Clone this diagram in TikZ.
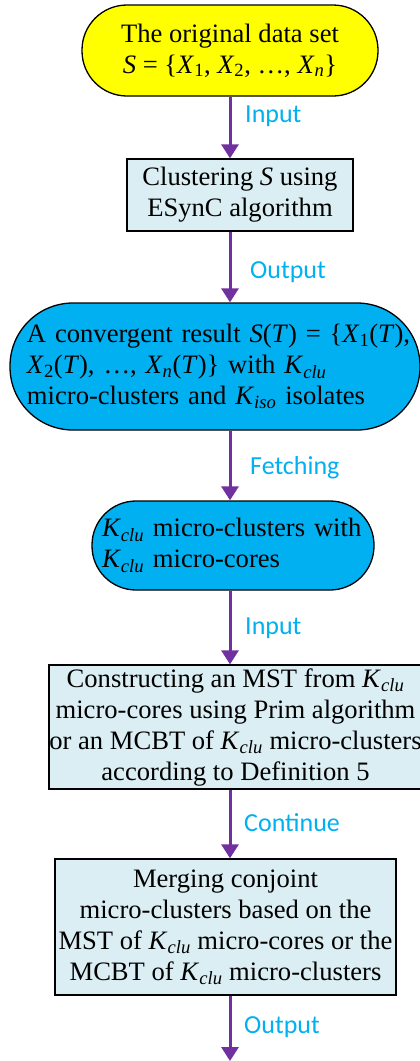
\documentclass[tikz,border=0pt]{standalone}
\usepackage{fontspec}
\setmainfont{Liberation Serif}
\newfontfamily\labfont{Carlito}
\usetikzlibrary{arrows.meta}
\definecolor{arrowpurple}{HTML}{7030A0}
\definecolor{labblue}{HTML}{00B0F0}
\definecolor{boxfill}{HTML}{DAEEF3}
\definecolor{ovalblue}{HTML}{00B0F0}
\definecolor{ovalyellow}{HTML}{FFFF00}
\newcommand\Kclu{\textit{K}\textsubscript{\textit{clu}}}
\newcommand\Kiso{\textit{K}\textsubscript{\textit{iso}}}
\newcommand\Xs[1]{\textit{X}\textsubscript{#1}}
\begin{document}
\begin{tikzpicture}[x=1pt,y=-1pt,
  base/.style={draw=black,line width=1.3pt,inner sep=0pt,
    font=\fontsize{26.6}{31}\selectfont,align=center},
  procbox/.style={base,fill=boxfill,rectangle},
  stadium/.style={base,rectangle,rounded corners=#1},
  flow/.style={draw=arrowpurple,line width=3pt,-{Triangle[width=17pt,length=14pt]}},
  flowlabel/.style={anchor=west,text=labblue,inner sep=0pt,
    font=\labfont\fontsize{26}{30}\selectfont}]
\useasboundingbox (0,0) rectangle (420,1061);
\clip (0,0) rectangle (420,1061);

\node[stadium=45, fill=ovalyellow, minimum width=296pt, minimum height=91pt] (n1) at (230,50.5)
  {The original data set\\\textit{S} = \{\Xs{1}, \Xs{2}, …, \Xs{\textit{n}}\}};
\node[procbox, minimum width=226pt, minimum height=72pt] (n2) at (240,195)
  {Clustering \textit{S} using\\ESynC algorithm};
\node[stadium=63, fill=ovalblue, minimum width=410pt, minimum height=127pt,
  text width=376pt, align=left] (n3) at (215,366.5)
  {\makebox[\linewidth][s]{A convergent result \textit{S}(\textit{T}) = \{\Xs{1}(\textit{T}),}\\
   \makebox[\linewidth][s]{\Xs{2}(\textit{T}), …, \Xs{\textit{n}}(\textit{T})\} with \Kclu}\\
   micro-clusters and \Kiso\ isolates};
\node[stadium=44, fill=ovalblue, minimum width=282pt, minimum height=89pt,
  text width=262pt, align=left] (n4) at (233,545.5)
  {\Kclu\ micro-clusters with\\\Kclu\ micro-cores};
\node[procbox, minimum width=373pt, minimum height=124pt] (n5) at (235.5,727)
  {Constructing an MST from \Kclu\\micro-cores using Prim algorithm\\or an MCBT of \Kclu\ micro-clusters\\according to Definition 5};
\node[procbox, minimum width=341pt, minimum height=136pt] (n6) at (225.5,927)
  {Merging conjoint\\micro-clusters based on the\\MST of \Kclu\ micro-cores or the\\MCBT of \Kclu\ micro-clusters};
\coordinate (end) at (230,1061);

\draw[flow] (n1.south) -- (n2.north -| n1.south);
\draw[flow] (n2.south -| n1.south) -- (n3.north -| n1.south);
\draw[flow] (n3.south -| n1.south) -- (n4.north -| n1.south);
\draw[flow] (n4.south -| n1.south) -- (n5.north -| n1.south);
\draw[flow] (n5.south -| n1.south) -- (n6.north -| n1.south);
\draw[flow] (n6.south -| end) -- (end);

\node[flowlabel] (l1) at (245,116) {Input};
\node[flowlabel] (l2) at (250,272) {Output};
\node[flowlabel] (l3) at (250,468) {Fetching};
\node[flowlabel] (l4) at (245,628) {Input};
\node[flowlabel] (l5) at (244,823) {Continue};
\node[flowlabel] (l6) at (244,1027) {Output};
\end{tikzpicture}
\end{document}
